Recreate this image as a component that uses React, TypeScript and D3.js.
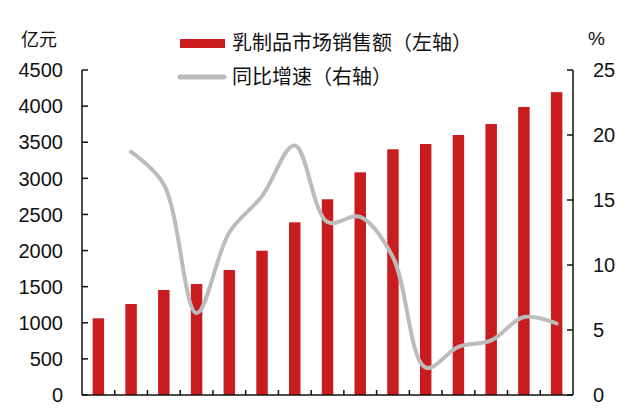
import React from "react";
import * as d3 from "d3";

const years = ["2004","2005","2006","2007","2008","2009","2010","2011","2012","2013","2014","2015","2016","2017","2018"];
const sales = [1062, 1260, 1454, 1537, 1731, 1998, 2391, 2710, 3083, 3402, 3475, 3600, 3752, 3988, 4193];
const growth: (number | null)[] = [null, 18.7, 16.2, 6.3, 12.5, 15.3, 19.2, 13.3, 13.7, 10.6, 2.1, 3.7, 4.2, 6.0, 5.5];
const leftTicks = [0, 500, 1000, 1500, 2000, 2500, 3000, 3500, 4000, 4500];
const rightTicks = [0, 5, 10, 15, 20, 25];
const legendSales = "乳制品市场销售额（左轴）";
const legendGrowth = "同比增速（右轴）";
const leftUnit = "亿元";
const rightUnit = "%";

const W = 640, H = 409;
const L = 82, R = 573, T = 70, B = 395;
const RED = "#c81c1f";
const GREY = "#bcbcbc";
const NUM_FONT = "'Liberation Sans', Arial, sans-serif";
const CJK_FONT = "'Noto Sans CJK SC', sans-serif";

export default function App() {
  const x = d3.scaleBand<string>().domain(years).range([L, R]).paddingInner(0.65).paddingOuter(0.325);
  const yL = d3.scaleLinear().domain([0, 4500]).range([B, T]);
  const yR = d3.scaleLinear().domain([0, 25]).range([B, T]);
  const step = x.step();
  const pts = years.map((yr, i) => ({ yr, v: growth[i] })).filter(d => d.v !== null) as { yr: string; v: number }[];
  const line = d3.line<{ yr: string; v: number }>()
    .x(d => (x(d.yr) as number) + x.bandwidth() / 2)
    .y(d => yR(d.v))
    .curve(d3.curveCatmullRom.alpha(0.5));
  const boundaries = years.slice(1).map(yr => (x(yr) as number) - (step - x.bandwidth()) / 2);

  return (
    <svg width={W} height={H} style={{ position: "absolute", left: 0, top: 0, background: "#fff" }}>
      {sales.map((v, i) => (
        <rect key={years[i]} x={x(years[i])} y={yL(v)} width={x.bandwidth()} height={B - yL(v)} fill={RED} />
      ))}
      <path d={line(pts) || ""} fill="none" stroke={GREY} strokeWidth={4} strokeLinecap="round" />
      {/* left axis */}
      <line x1={L} x2={L} y1={T} y2={B} stroke="#111" strokeWidth={1.5} />
      {leftTicks.map(t => (
        <g key={"l" + t}>
          <line x1={L} x2={L + 6} y1={yL(t)} y2={yL(t)} stroke="#111" strokeWidth={1.5} />
          <text x={63} y={yL(t)} dy="0.36em" textAnchor="end" fontFamily={NUM_FONT} fontSize={20} fill="#111">{t}</text>
        </g>
      ))}
      {/* right axis */}
      <line x1={R} x2={R} y1={T} y2={B} stroke="#111" strokeWidth={1.5} />
      {rightTicks.map(t => (
        <g key={"r" + t}>
          <line x1={R - 6} x2={R} y1={yR(t)} y2={yR(t)} stroke="#111" strokeWidth={1.5} />
          <text x={593} y={yR(t)} dy="0.36em" textAnchor="start" fontFamily={NUM_FONT} fontSize={20} fill="#111">{t}</text>
        </g>
      ))}
      {/* bottom axis */}
      <line x1={L} x2={R} y1={B} y2={B} stroke="#111" strokeWidth={1.5} />
      {boundaries.map((bx, i) => (
        <line key={"b" + i} x1={bx} x2={bx} y1={B} y2={B - 5} stroke="#111" strokeWidth={1.5} />
      ))}
      {/* units */}
      <text x={21} y={40} dy="0.36em" fontFamily={CJK_FONT} fontSize={18} fill="#111">{leftUnit}</text>
      <text x={588} y={38} dy="0.36em" fontFamily={NUM_FONT} fontSize={19} fill="#111">{rightUnit}</text>
      {/* legend */}
      <rect x={180} y={39} width={45} height={9} fill={RED} />
      <text x={232} y={43} dy="0.36em" fontFamily={CJK_FONT} fontSize={20} fill="#111">{legendSales}</text>
      <line x1={180} x2={224} y1={77} y2={77} stroke={GREY} strokeWidth={5} strokeLinecap="round" />
      <text x={232} y={77} dy="0.36em" fontFamily={CJK_FONT} fontSize={20} fill="#111">{legendGrowth}</text>
    </svg>
  );
}
